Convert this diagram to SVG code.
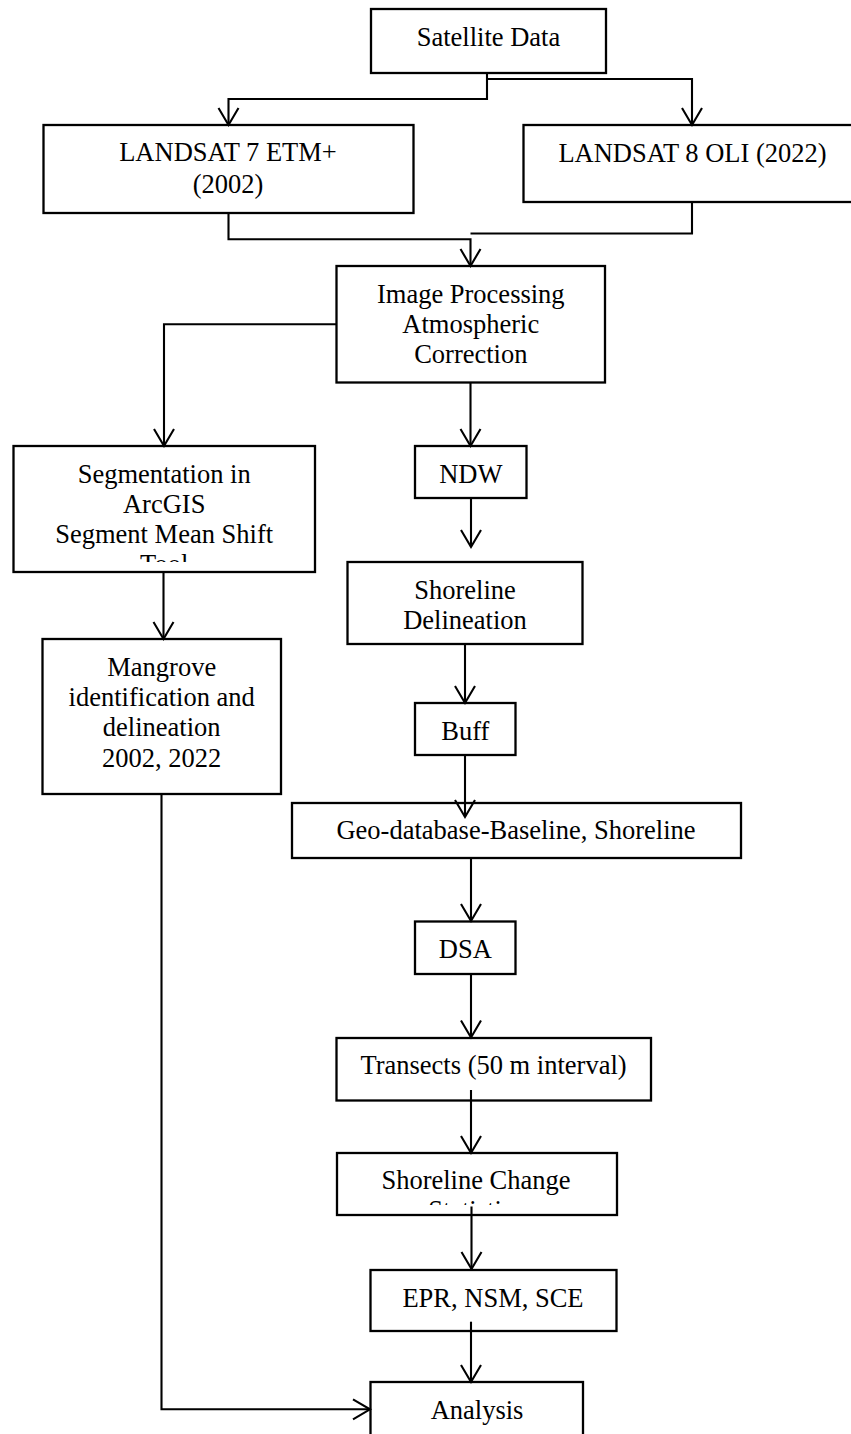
<svg xmlns="http://www.w3.org/2000/svg" width="851" height="1434" viewBox="0 0 851 1434">
<style>
.box{fill:#fff;stroke:#000;stroke-width:2.3}
.t{font-family:"Liberation Serif","Times New Roman",serif;font-size:26.5px;fill:#000;text-anchor:middle}
.c{fill:none;stroke:#000;stroke-width:2.1}
</style>
<defs>
<marker id="ah" markerUnits="userSpaceOnUse" markerWidth="40" markerHeight="40" viewBox="-20 -20 40 40" refX="0" refY="0" orient="auto" overflow="visible">
<path d="M-17,-10 L0,0 L-17,10" fill="none" stroke="#000" stroke-width="2.1"/>
</marker>
<clipPath id="clipSeg"><rect x="14" y="446" width="300" height="116"/></clipPath>
<clipPath id="clipSC"><rect x="337" y="1153" width="280" height="52"/></clipPath>
</defs>
<rect width="851" height="1434" fill="#fff"/>
<g id="n-satellite"><rect class="box" x="371" y="9" width="235" height="64"/><text class="t" x="488.5" y="45.5">Satellite Data</text></g>
<g id="n-l7"><rect class="box" x="43.5" y="125" width="370" height="88"/><text class="t" x="228" y="161">LANDSAT 7 ETM+</text><text class="t" x="228" y="193">(2002)</text></g>
<g id="n-l8"><rect class="box" x="523.5" y="125" width="340" height="77"/><text class="t" x="692.5" y="162">LANDSAT 8 OLI (2022)</text></g>
<g id="n-ip"><rect class="box" x="336.5" y="266" width="268.5" height="116.5"/><text class="t" x="470.8" y="303">Image Processing</text><text class="t" x="470.8" y="333">Atmospheric</text><text class="t" x="470.8" y="363">Correction</text></g>
<g id="n-seg"><rect class="box" x="13.5" y="446" width="301.5" height="126"/><g clip-path="url(#clipSeg)"><text class="t" x="164.2" y="483">Segmentation in</text><text class="t" x="164.2" y="513">ArcGIS</text><text class="t" x="164.2" y="543">Segment Mean Shift</text><text class="t" x="164.2" y="573">Tool</text></g></g>
<g id="n-ndw"><rect class="box" x="415" y="446" width="111.5" height="52"/><text class="t" x="470.8" y="483">NDW</text></g>
<g id="n-sd"><rect class="box" x="347.5" y="562" width="235" height="82"/><text class="t" x="465" y="598.5">Shoreline</text><text class="t" x="465" y="628.5">Delineation</text></g>
<g id="n-mangrove"><rect class="box" x="42.5" y="639" width="238.5" height="155"/><text class="t" x="161.7" y="676">Mangrove</text><text class="t" x="161.7" y="706">identification and</text><text class="t" x="161.7" y="736">delineation</text><text class="t" x="161.7" y="767">2002, 2022</text></g>
<g id="n-buff"><rect class="box" x="415" y="703" width="100.5" height="52"/><text class="t" x="465.3" y="739.5">Buff</text></g>
<g id="n-geo"><rect class="box" x="292" y="803" width="449" height="55"/><text class="t" x="516" y="839">Geo-database-Baseline, Shoreline</text></g>
<g id="n-dsa"><rect class="box" x="415" y="921.5" width="100.5" height="52.5"/><text class="t" x="465.3" y="958.3">DSA</text></g>
<g id="n-transects"><rect class="box" x="336.5" y="1038" width="314.5" height="62.5"/><text class="t" x="493.5" y="1074">Transects (50 m interval)</text></g>
<g id="n-sc"><rect class="box" x="337" y="1153" width="280" height="62"/><g clip-path="url(#clipSC)"><text class="t" x="476" y="1188.5">Shoreline Change</text><text class="t" x="476" y="1218.5">Statistics</text></g></g>
<g id="n-epr"><rect class="box" x="370.5" y="1270" width="246" height="61"/><text class="t" x="493" y="1306.7">EPR, NSM, SCE</text></g>
<g id="n-analysis"><rect class="box" x="370.5" y="1382" width="212.5" height="70"/><text class="t" x="477" y="1418.5">Analysis</text></g>
<g id="connectors">
<path class="c" d="M487,73 V99 H228.5 V125" marker-end="url(#ah)"/>
<path class="c" d="M487,79 H692 V125" marker-end="url(#ah)"/>
<path class="c" d="M228.5,213 V239.3 H470.5 V266" marker-end="url(#ah)"/>
<path class="c" d="M692,202 V233.5 H470.5"/>
<path class="c" d="M336.5,324.3 H164 V446" marker-end="url(#ah)"/>
<path class="c" d="M470.5,383 V446" marker-end="url(#ah)"/>
<path class="c" d="M471,498 V547" marker-end="url(#ah)"/>
<path class="c" d="M465,644 V703" marker-end="url(#ah)"/>
<path class="c" d="M163.5,572 V639" marker-end="url(#ah)"/>
<path class="c" d="M465,755 V817" marker-end="url(#ah)"/>
<path class="c" d="M471,858 V921" marker-end="url(#ah)"/>
<path class="c" d="M471,974 V1037.5" marker-end="url(#ah)"/>
<path class="c" d="M471,1090 V1153" marker-end="url(#ah)"/>
<path class="c" d="M471.5,1206.5 V1269" marker-end="url(#ah)"/>
<path class="c" d="M471,1321.7 V1382" marker-end="url(#ah)"/>
<path class="c" d="M161.5,794 V1409.3 H370" marker-end="url(#ah)"/>
</g>
</svg>
